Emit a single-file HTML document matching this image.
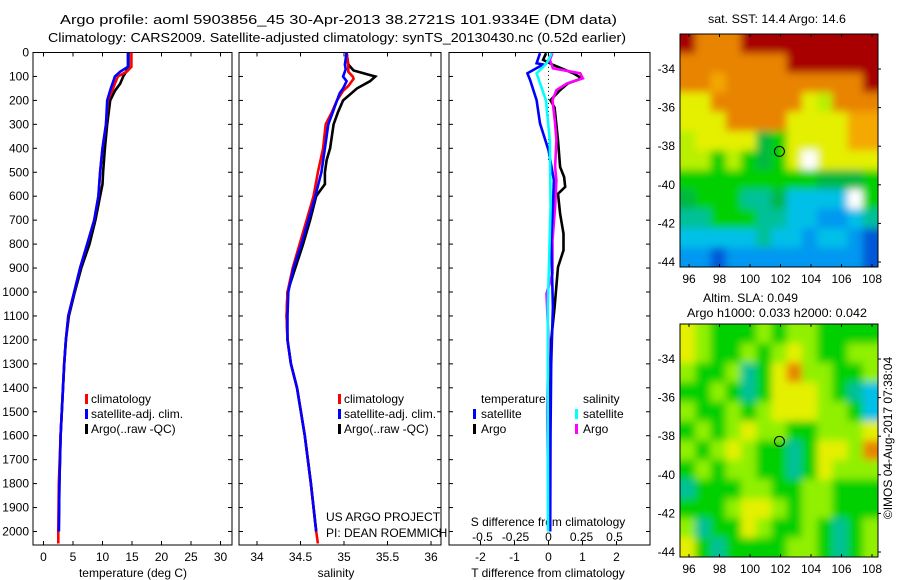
<!DOCTYPE html>
<html><head><meta charset="utf-8"><style>
body{margin:0;background:#fff;}
svg{display:block;font-family:"Liberation Sans",sans-serif;}
text{font-size:12px;fill:#000;}
</style></head><body>
<svg id="chart" width="900" height="580" xmlns="http://www.w3.org/2000/svg">
<defs>
<filter id="blur" x="0" y="0" width="1" height="1"><feGaussianBlur stdDeviation="4"/></filter>
<clipPath id="clipTop"><rect x="680" y="34" width="198" height="233"/></clipPath>
<clipPath id="clipBot"><rect x="680" y="324" width="198" height="233"/></clipPath>
</defs>
<text x="60" y="24" textLength="557" lengthAdjust="spacingAndGlyphs" style="font-size:13px">Argo profile: aoml 5903856_45 30-Apr-2013 38.2721S 101.9334E (DM data)</text>
<text x="48" y="42" textLength="578" lengthAdjust="spacingAndGlyphs" style="font-size:13px">Climatology: CARS2009. Satellite-adjusted climatology: synTS_20130430.nc (0.52d earlier)</text>
<text x="708" y="23" textLength="138" lengthAdjust="spacingAndGlyphs">sat. SST: 14.4 Argo: 14.6</text>
<text x="703" y="302" textLength="95" lengthAdjust="spacingAndGlyphs">Altim. SLA: 0.049</text>
<text x="687" y="317" textLength="180" lengthAdjust="spacingAndGlyphs">Argo h1000: 0.033 h2000: 0.042</text>
<text transform="translate(892,438) rotate(-90)" text-anchor="middle">©IMOS 04-Aug-2017 07:38:04</text>
<g id="g"></g>
</svg>
<script>
// ---- data ----
const depthTicks=[0,100,200,300,400,500,600,700,800,900,1000,1100,1200,1300,1400,1500,1600,1700,1800,1900,2000];
const tempTicks=[0,5,10,15,20,25,30];
const salTicks=[34,34.5,35,35.5,36];
const tdiffTicks=[-2,-1,0,1,2];
const sdiffTicks=[-0.5,-0.25,0,0.25,0.5];
const tClimDepth=[0,60,80,100,130,150,200,300,400,500,600,700,800,900,1000,1100,1200,1300,1400,1600,1800,2000,2050];
const tClim=[14.9,14.9,14.1,12.6,12.1,11.8,10.9,10.6,10.0,9.6,9.3,8.6,7.4,6.2,5.2,4.2,3.8,3.5,3.3,2.9,2.6,2.5,2.5];
const tSatDepth=[0,60,80,100,130,150,200,300,400,500,600,700,800,900,1000,1100,1200,1300,1400,1600,1800,2000];
const tSat=[14.3,14.3,13.0,12.1,11.7,11.4,10.8,10.6,10.0,9.6,9.3,8.6,7.4,6.2,5.2,4.2,3.8,3.5,3.3,2.9,2.7,2.6];
const tArgoDepth=[0,60,80,100,130,160,200,300,400,500,550,600,700,800,900,1000,1100,1200,1300,1400,1600,1800,2000];
const tArgo=[14.4,14.4,14.0,13.5,13.0,12.1,11.3,10.8,10.4,10.1,10.0,9.6,8.8,7.8,6.4,5.3,4.3,3.8,3.5,3.3,2.9,2.7,2.6];
const sClimDepth=[0,60,80,100,110,140,160,200,250,300,400,500,600,700,800,900,1000,1100,1200,1300,1400,1600,1800,2000,2050];
const sClim=[35.03,35.05,35.05,35.10,35.11,35.05,34.99,34.92,34.86,34.79,34.76,34.70,34.65,34.57,34.49,34.41,34.35,34.34,34.35,34.39,34.46,34.55,34.62,34.68,34.70];
const sSatDepth=[0,50,70,100,120,150,170,200,250,300,400,500,600,700,800,900,1000,1100,1200,1300,1400,1600,1800,2000];
const sSat=[35.03,35.01,35.02,34.99,35.03,34.99,34.95,34.92,34.87,34.82,34.78,34.74,34.67,34.59,34.51,34.42,34.36,34.35,34.35,34.39,34.46,34.55,34.62,34.68];
const sArgoDepth=[0,50,75,90,100,120,150,200,250,300,400,450,500,550,580,600,700,800,900,1000,1100,1200,1300,1400,1600,1800,2000];
const sArgo=[35.03,35.05,35.11,35.26,35.36,35.30,35.15,34.99,34.93,34.88,34.84,34.80,34.78,34.78,34.72,34.68,34.61,34.53,34.44,34.35,34.34,34.35,34.39,34.46,34.55,34.62,34.68];
const dTSatDepth=[3,45,50,87,115,199,296,408,533,645,784,1063,1300,1600,2000];
const dTSat=[-0.25,-0.35,-0.16,-0.62,-0.54,-0.35,-0.25,0,0.16,0.13,0.08,0.13,0.08,0.06,0.05];
const dTArgoDepth=[3,31,52,87,108,129,157,199,230,366,478,520,561,590,673,756,826,896,979,1063,1200,1400,1700,2000];
const dTArgo=[-0.07,-0.16,0.14,0.73,0.98,0.57,0.34,0.06,0.18,0.28,0.34,0.46,0.49,0.28,0.34,0.44,0.44,0.28,0.23,0.18,0.08,0.05,0.04,0.03];
const dSSatDepth=[3,45,87,129,199,366,645,1063,1500,2000];
const dSSat=[0.024,-0.014,-0.09,-0.064,-0.02,0.01,0.016,-0.005,-0.005,-0.004];
const dSArgoDepth=[3,31,66,87,108,129,157,199,296,366,478,533,645,784,924,1007,1200,1500,1700,2000];
const dSArgo=[0.03,0.01,0.034,0.24,0.26,0.14,0.06,0.03,0.05,0.06,0.05,0.06,0.05,0.03,0.03,-0.015,0.0,-0.01,-0.005,0.0];
const mapLon=[96,98,100,102,104,106,108];
const mapLat=[-34,-36,-38,-40,-42,-44];
const sstGrid=["ROOORRRRRRRRR","OOOOOOORRRRRR","OOoOOOOOOOOOR","YYOOOOOOYyOOO","YYYOOOOYYYYoo","yYYYYgGYYYYoo","yyGyGgGYWYYYY","GGGGGGGGGgggG","gGGGTTgCCCCWG","TTGGGTTCCBBCT","CCCCCTCCBCCBD","BBDBBBBBBBBBD"];
const slaGrid=["YLGGGLGLLGGGG","YLGGLGLYLGGLL","LGGLTGYOLLGGL","GGLGTGYYYLGTC","LGGLGLYYYLLGC","GLGLYLLGGLLLY","LGLYLGGTGYYLO","GLGLLGGTGYLLL","TGGGLLGGLLGGG","GGGLYYLGLLGGG","LTGGYLGGLGTGL","YGTGGGGLLGTGL"];
const colorKey={R:"#a80000",O:"#e88400",o:"#f4a800",Y:"#e4f000",y:"#b8f000",G:"#00d000",g:"#00b840",T:"#00c098",C:"#00c0e8",B:"#0098f0",D:"#0058d8",W:"#ffffff",L:"#90f000"};

// ---- helpers ----
const NS="http://www.w3.org/2000/svg";
const root=document.getElementById('g');
function mk(tag,attrs,parent){const e=document.createElementNS(NS,tag);for(const k in attrs)e.setAttribute(k,attrs[k]);(parent||root).appendChild(e);return e;}
const top0=52.5,bot0=545;
const yD=d=>top0+d*0.2395;
const xT=t=>43.5+t*5.9;
const xS=s=>257+(s-34)*87;
const xDT=v=>548.5+v*34;
const xDS=v=>548.5+v*132;

function panel(x1,x2,name){
  const r=mk('rect',{x:x1,y:top0,width:x2-x1,height:bot0-top0,fill:'none',stroke:'#000','stroke-width':1});
  
  
  depthTicks.forEach(d=>{
    mk('line',{x1:x1,x2:x1+4,y1:yD(d),y2:yD(d),stroke:'#000'});
    mk('line',{x1:x2,x2:x2-4,y1:yD(d),y2:yD(d),stroke:'#000'});
  });
}
function xticks(ticks,fx,labelY,name,top){
  ticks.forEach(v=>{
    const x=fx(v);
    mk('line',{x1:x,x2:x,y1:bot0,y2:bot0-4,stroke:'#000'});
    if(top) mk('line',{x1:x,x2:x,y1:top0,y2:top0+4,stroke:'#000'});
    const t=mk('text',{x:x,y:labelY,'text-anchor':'middle'});t.textContent=String(v);
    
    
  });
}
function line(ds,vs,fx,color,name,w){
  const p=ds.map((d,i)=>fx(vs[i]).toFixed(1)+','+yD(d).toFixed(1)).join(' ');
  const e=mk('polyline',{points:p,fill:'none',stroke:color,'stroke-width':w||2.6,'stroke-linejoin':'miter'});
  
  
}
function txt(x,y,s,name,anchor){const t=mk('text',{x:x,y:y,'text-anchor':anchor||'start'});t.textContent=s;
  
  return t;}
function legendBar(x,y,c,name){const e=mk('rect',{x:x,y:y-9,width:3,height:10,fill:c});
  
  }

// panel 1 temperature
panel(33,232,'temperature-panel');
depthTicks.forEach(d=>{txt(29,yD(d)+4,String(d),'depth-tick-label','end');});
xticks(tempTicks,xT,561,'temperature-tick-label',true);
txt(133,577,'temperature (deg C)','temperature-axis-title','middle');
line(tArgoDepth,tArgo,xT,'#000','argo-temperature-line');
line(tClimDepth,tClim,xT,'#f00','climatology-temperature-line');
line(tSatDepth,tSat,xT,'#00f','satellite-temperature-line');
legendBar(85,403,'#f00','legend-climatology-swatch');txt(91,403,'climatology','legend-climatology');
legendBar(85,418,'#00f','legend-satellite-swatch');txt(91,418,'satellite-adj. clim.','legend-satellite');
legendBar(85,433,'#000','legend-argo-swatch');txt(91,433,'Argo(..raw -QC)','legend-argo');

// panel 2 salinity
panel(239,441,'salinity-panel');
xticks(salTicks,xS,561,'salinity-tick-label',true);
txt(336,577,'salinity','salinity-axis-title','middle');
line(sArgoDepth,sArgo,xS,'#000','argo-salinity-line');
line(sClimDepth,sClim,xS,'#f00','climatology-salinity-line');
line(sSatDepth,sSat,xS,'#00f','satellite-salinity-line');
legendBar(338,403,'#f00','legend-climatology-swatch-2');txt(344,403,'climatology','legend-climatology-2');
legendBar(338,418,'#00f','legend-satellite-swatch-2');txt(344,418,'satellite-adj. clim.','legend-satellite-2');
legendBar(338,433,'#000','legend-argo-swatch-2');txt(344,433,'Argo(..raw -QC)','legend-argo-2');
txt(326,521,'US ARGO PROJECT','project-credit');
txt(326,537,'PI: DEAN ROEMMICH','pi-credit');

// panel 3 differences
panel(449,650,'difference-panel');
xticks(tdiffTicks,xDT,561,'t-diff-tick-label',false);
sdiffTicks.forEach(v=>{txt(xDS(v),541,String(v),'s-diff-tick-label','middle');});
sdiffTicks.forEach(v=>{mk('line',{x1:xDS(v),x2:xDS(v),y1:top0,y2:top0+4,stroke:'#000'});});
txt(548,526,'S difference from climatology','s-diff-axis-title','middle');
txt(548,577,'T difference from climatology','t-diff-axis-title','middle');
mk('line',{x1:548.5,x2:548.5,y1:yD(60),y2:yD(450),stroke:'#000','stroke-dasharray':'1,3'});
line(dTArgoDepth,dTArgo,xDT,'#000','argo-t-diff-line');
line(dSArgoDepth,dSArgo,xDS,'#f0f','argo-s-diff-line');
line(dTSatDepth,dTSat,xDT,'#00f','satellite-t-diff-line');
line(dSSatDepth,dSSat,xDS,'#0ff','satellite-s-diff-line');
txt(481,403,'temperature','legend-temperature-header');
txt(583,403,'salinity','legend-salinity-header');
legendBar(473,418,'#00f','legend-t-sat-swatch');txt(481,418,'satellite','legend-t-satellite');
legendBar(473,433,'#000','legend-t-argo-swatch');txt(481,433,'Argo','legend-t-argo');
legendBar(575,418,'#0ff','legend-s-sat-swatch');txt(583,418,'satellite','legend-s-satellite');
legendBar(575,433,'#f0f','legend-s-argo-swatch');txt(583,433,'Argo','legend-s-argo');

// maps
function drawMap(grid,y0,y1,name,latRef,clipId){
  const x0=680,x1=878;
  const g=mk('g',{});
  
  
  const clipG=mk('g',{'clip-path':'url(#'+clipId+')'},g);
  const cells=mk('g',{filter:'url(#blur)'},clipG);
  const rows=grid.length,cols=grid[0].length;
  const cw=(x1-x0)/cols,ch=(y1-y0)/rows;
  mk('rect',{x:x0-10,y:y0-10,width:x1-x0+20,height:y1-y0+20,fill:colorKey[grid[0][0]]},cells);
  grid.forEach((row,r)=>{[...row].forEach((k,c)=>{
    const ex=c===0?-10:0, ey=r===0?-10:0, ew=(c===cols-1?10:0)-ex, eh=(r===rows-1?10:0)-ey;
    const cell=mk('rect',{x:(x0+c*cw+ex).toFixed(1),y:(y0+r*ch+ey).toFixed(1),width:(cw+0.6+ew).toFixed(1),height:(ch+0.6+eh).toFixed(1),fill:colorKey[k]},cells);
    
    
  });});
  mk('rect',{x:x0,y:y0,width:x1-x0,height:y1-y0,fill:'none',stroke:'#000'},g);
  const lx=lon=>689+(lon-96)*15.25;
  const ly=lat=>latRef+(-34-lat)*19.3;
  mapLon.forEach(v=>{mk('line',{x1:lx(v),x2:lx(v),y1:y0,y2:y0+3,stroke:'#000'},g);mk('line',{x1:lx(v),x2:lx(v),y1:y1,y2:y1-3,stroke:'#000'},g);
    txt(lx(v),y1+16,String(v),'map-lon-label','middle');});
  mapLat.forEach(v=>{mk('line',{x1:x1,x2:x1+3,y1:ly(v),y2:ly(v),stroke:'#000'},g);
    txt(675,ly(v)+4,String(v),'map-lat-label','end');});
  const m=mk('circle',{cx:lx(101.93),cy:ly(-38.27),r:5,fill:'none',stroke:'#000','stroke-width':1},g);
  
  
}
drawMap(sstGrid,34,267,'sst-map',69,'clipTop');
drawMap(slaGrid,324,557,'sla-map',359,'clipBot');
</script>
</body></html>
